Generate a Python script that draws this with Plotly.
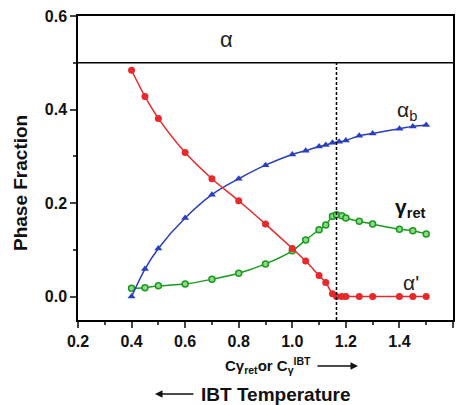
import plotly.graph_objects as go

x_alpha_p = [0.4, 0.45, 0.5, 0.6, 0.7, 0.8, 0.9, 1.0, 1.05, 1.1, 1.125, 1.15, 1.165, 1.185, 1.2, 1.25, 1.3, 1.4, 1.45, 1.5]
alpha_p   = [0.484, 0.428, 0.381, 0.308, 0.252, 0.205, 0.155, 0.103, 0.076, 0.045, 0.030, 0.006, 0.0, 0.0, 0.0, 0.0, 0.0, 0.0, 0.0, 0.0]

x_alpha_b = [0.4, 0.45, 0.5, 0.6, 0.7, 0.8, 0.9, 1.0, 1.05, 1.1, 1.125, 1.15, 1.175, 1.2, 1.25, 1.3, 1.4, 1.45, 1.5]
alpha_b   = [0.0, 0.059, 0.103, 0.168, 0.218, 0.252, 0.281, 0.304, 0.312, 0.321, 0.324, 0.329, 0.331, 0.334, 0.344, 0.349, 0.359, 0.364, 0.367]

x_gamma = [0.4, 0.45, 0.5, 0.6, 0.7, 0.8, 0.9, 1.0, 1.05, 1.1, 1.125, 1.15, 1.165, 1.185, 1.2, 1.25, 1.3, 1.4, 1.45, 1.5]
gamma   = [0.018, 0.019, 0.023, 0.027, 0.037, 0.050, 0.070, 0.098, 0.121, 0.143, 0.153, 0.172, 0.175, 0.173, 0.168, 0.161, 0.155, 0.144, 0.141, 0.134]

x_tc = 1.165

FONT = "Liberation Sans"
L, R, T, B = 78, 11, 16, 85
PW, PH = 464 - L - R, 405 - T - B

def px(p):
    return (p - L) / PW

def py(q):
    return (405 - B - q) / PH

fig = go.Figure()
fig.add_trace(go.Scatter(x=x_gamma, y=gamma, mode="lines+markers",
    line=dict(color="#1a9a1a", width=1.5, shape="spline"),
    marker=dict(symbol="circle", size=6, color="#8ed88e", line=dict(color="#1a9a1a", width=1.5))))
fig.add_trace(go.Scatter(x=x_alpha_b, y=alpha_b, mode="lines+markers",
    line=dict(color="#2a3fbf", width=1.5, shape="spline"),
    marker=dict(symbol="triangle-up", size=7, color="#2a3fbf")))
fig.add_trace(go.Scatter(x=x_alpha_p, y=alpha_p, mode="lines+markers",
    line=dict(color="#e8282a", width=1.5, shape="spline"),
    marker=dict(symbol="circle", size=7, color="#e8282a")))

fig.add_shape(type="line", xref="paper", yref="y", x0=0, x1=1, y0=0.5, y1=0.5,
              line=dict(color="black", width=1.5))
fig.add_shape(type="line", xref="x", yref="y", x0=x_tc, x1=x_tc, y0=-0.05, y1=0.5,
              line=dict(color="black", width=1.5, dash="3px,2px"))

ann = [
    dict(x=0.756, y=0.55, text="α", font=dict(size=22, family=FONT, color="#222")),
    dict(x=1.43, y=0.397, text="α<sub>b</sub>", font=dict(size=21, family=FONT, color="#222")),
    dict(x=1.44, y=0.19, text="<b>γ<sub>ret</sub></b>", font=dict(size=21, family=FONT, color="#111")),
    dict(x=1.445, y=0.03, text="α'", font=dict(size=21, family=FONT, color="#222")),
]
for a in ann:
    fig.add_annotation(xref="x", yref="y", showarrow=False, xanchor="center", yanchor="middle", **a)

fig.add_annotation(xref="paper", yref="paper", x=px(20), y=py(183), textangle=-90,
    text="<b>Phase Fraction</b>", showarrow=False, xanchor="center", yanchor="middle",
    font=dict(size=19, family=FONT, color="#111"))
fig.add_annotation(xref="paper", yref="paper", x=px(268), y=py(365),
    text="<b>Cγ<sub>ret</sub>or C<sub>γ</sub><sup>IBT</sup></b>", showarrow=False,
    xanchor="center", yanchor="middle",
    font=dict(size=15, family=FONT, color="#111"))
fig.add_annotation(xref="paper", yref="paper", x=px(358), y=py(366), text="",
    showarrow=True, ax=-42, ay=0, arrowhead=2, arrowsize=1, arrowwidth=1.5, arrowcolor="#111")
fig.add_annotation(xref="paper", yref="paper", x=px(276), y=py(394),
    text="<b>IBT Temperature</b>", showarrow=False, xanchor="center", yanchor="middle",
    font=dict(size=19, family=FONT, color="#111"))
fig.add_annotation(xref="paper", yref="paper", x=px(155), y=py(394), text="",
    showarrow=True, ax=40, ay=0, arrowhead=2, arrowsize=1, arrowwidth=1.5, arrowcolor="#111")

fig.update_layout(
    width=464, height=405, showlegend=False,
    margin=dict(l=L, r=R, t=T, b=B),
    plot_bgcolor="white", paper_bgcolor="white",
    font=dict(family=FONT, color="#111"),
    xaxis=dict(range=[0.2, 1.6], tickvals=[0.2, 0.4, 0.6, 0.8, 1.0, 1.2, 1.4, 1.6],
               ticktext=["0.2", "0.4", "0.6", "0.8", "1.0", "1.2", "1.4", "1.6"],
               ticks="outside", ticklen=6, tickwidth=1.5, showgrid=False, zeroline=False,
               showline=True, linecolor="black", linewidth=1.5, mirror=True, automargin=False,
               tickfont=dict(size=16, family=FONT, weight="bold"),
               minor=dict(dtick=0.1, ticks="outside", ticklen=3, tickwidth=1.5)),
    yaxis=dict(range=[-0.05, 0.6], tickvals=[0.0, 0.2, 0.4, 0.6],
               ticktext=["0.0", "0.2", "0.4", "0.6"],
               ticks="outside", ticklen=6, tickwidth=1.5, showgrid=False, zeroline=False,
               showline=True, linecolor="black", linewidth=1.5, mirror=True, automargin=False,
               tickfont=dict(size=16, family=FONT, weight="bold"),
               minor=dict(tick0=0.0, dtick=0.1, ticks="outside", ticklen=3, tickwidth=1.5)),
)

fig.write_html("out.html")
